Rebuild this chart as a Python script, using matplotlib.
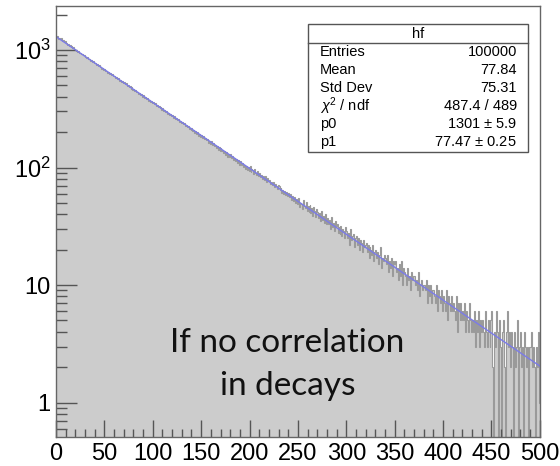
import numpy as np
import matplotlib.pyplot as plt
from matplotlib.patches import Rectangle
from matplotlib.ticker import FixedLocator, FixedFormatter, NullFormatter

plt.rcParams['font.family'] = ['Liberation Sans', 'DejaVu Sans']
plt.rcParams['mathtext.fontset'] = 'custom'
plt.rcParams['mathtext.rm'] = 'Liberation Sans'
plt.rcParams['mathtext.it'] = 'Liberation Sans:italic'

# histogram "hf": 500 bins of width 1 from 0 to 500
x_lo, x_hi = 0, 500
counts = [
    1288, 1305, 1247, 1270, 1231, 1262, 1198, 1214, 1176, 1190,
    1150, 1108, 1131, 1089, 1104, 1062, 1079, 1041, 1056, 1012,
    1001, 987, 962, 975, 940, 951, 918, 933, 899, 905,
    880, 851, 872, 838, 846, 812, 829, 797, 806, 774,
    779, 748, 760, 731, 742, 710, 721, 695, 706, 672,
    690, 661, 668, 642, 655, 624, 638, 611, 620, 596,
    601, 583, 590, 566, 575, 549, 561, 536, 548, 521,
    530, 512, 520, 497, 505, 488, 494, 470, 483, 459,
    468, 447, 455, 436, 441, 424, 431, 412, 420, 401,
    411, 392, 400, 381, 393, 370, 377, 361, 368, 352,
    360, 344, 352, 337, 341, 326, 335, 319, 327, 311,
    318, 303, 309, 296, 300, 288, 294, 280, 287, 272,
    280, 266, 272, 259, 263, 252, 257, 243, 250, 238,
    246, 233, 239, 226, 231, 221, 227, 212, 219, 208,
    216, 204, 209, 198, 203, 193, 199, 186, 192, 182,
    190, 179, 184, 174, 178, 170, 174, 162, 169, 159,
    167, 157, 162, 152, 157, 148, 153, 142, 149, 139,
    147, 138, 142, 134, 138, 129, 135, 124, 131, 122,
    130, 121, 125, 117, 121, 113, 118, 109, 115, 106,
    114, 106, 110, 102, 106, 98, 104, 95, 101, 93,
    103, 92, 97, 95, 89, 98, 90, 86, 93, 84,
    90, 83, 87, 80, 85, 79, 84, 76, 81, 77,
    79, 73, 76, 71, 75, 68, 72, 70, 66, 71,
    69, 64, 67, 61, 65, 60, 63, 58, 62, 57,
    61, 56, 59, 53, 57, 52, 56, 50, 54, 49,
    55, 46, 50, 49, 44, 53, 47, 45, 51, 43,
    47, 42, 48, 41, 45, 39, 46, 43, 38, 44,
    42, 37, 41, 35, 43, 36, 39, 34, 40, 33,
    37, 33, 36, 30, 38, 31, 34, 29, 35, 32,
    33, 28, 31, 27, 32, 26, 30, 29, 25, 31,
    29, 25, 28, 22, 30, 24, 26, 27, 21, 25,
    26, 22, 25, 20, 24, 23, 19, 24, 21, 22,
    23, 19, 22, 17, 21, 20, 18, 22, 16, 19,
    20, 17, 19, 15, 18, 21, 14, 17, 16, 18,
    17, 15, 18, 13, 16, 14, 17, 12, 16, 15,
    16, 13, 14, 11, 15, 13, 12, 16, 10, 14,
    13, 12, 10, 14, 11, 12, 9, 13, 11, 12,
    12, 10, 11, 9, 13, 8, 10, 11, 9, 10,
    10, 9, 11, 7, 10, 8, 9, 10, 7, 9,
    9, 8, 7, 10, 6, 9, 8, 7, 9, 6,
    8, 7, 6, 9, 5, 8, 7, 6, 8, 6,
    7, 6, 5, 8, 4, 7, 6, 5, 7, 5,
    6, 5, 7, 4, 6, 5, 4, 7, 5, 4,
    5, 4, 6, 3, 5, 4, 6, 3, 5, 4,
    5, 4, 3, 6, 4, 3, 5, 4, 3, 5,
    6, 2, 0, 4, 3, 6, 4, 0, 5, 3,
    0, 4, 5, 2, 0, 4, 6, 3, 4, 2,
    4, 3, 0, 4, 2, 3, 5, 0, 3, 3,
    4, 2, 3, 0, 4, 3, 2, 3, 0, 3,
    3, 4, 2, 3, 2, 0, 3, 2, 4, 1,
]

# fit results p0*exp(-x/p1)
p0 = 1301
p1 = 77.47

stats_labels = ['Entries', 'Mean', 'Std Dev', r'$\chi^2$ / ndf', 'p0', 'p1']
stats_values = ['100000', '77.84', '75.31', '487.4 / 489',
                r'1301 $\pm$ 5.9', r'77.47 $\pm$ 0.25']

ytick_vals = [1, 10, 100, 1000]
ytick_text = ['1', '10', r'$10^2$', r'$10^3$']

counts = np.array(counts, dtype=float)
edges = np.linspace(x_lo, x_hi, len(counts) + 1)
floor = 1e-2
shown = np.where(counts > 0, counts, floor)

fig = plt.figure(figsize=(5.6, 4.66), dpi=100)
ax = fig.add_axes([0.1, 0.0622, 0.864, 0.925])

ax.stairs(shown, edges, baseline=floor, fill=True, color='#cccccc', lw=0)
ax.stairs(shown, edges, baseline=None, color='#9a9a9a', lw=0.8)

xf = np.linspace(x_lo, x_hi, 400)
ax.plot(xf, p0 * np.exp(-xf / p1), color='#7b7be8', lw=1.0)

ax.set_yscale('log')
ax.set_xlim(x_lo, x_hi)
ax.set_ylim(0.51, 2370)

ax.xaxis.set_major_locator(FixedLocator(np.arange(0, 501, 50)))
ax.xaxis.set_minor_locator(FixedLocator(np.arange(0, 501, 10)))
ax.yaxis.set_major_locator(FixedLocator(ytick_vals))
ax.yaxis.set_major_formatter(FixedFormatter(ytick_text))
minors = [m * 10.0 ** d for d in range(-1, 4) for m in range(2, 10)]
ax.yaxis.set_minor_locator(FixedLocator(minors))
ax.yaxis.set_minor_formatter(NullFormatter())

ax.tick_params(axis='both', which='both', direction='in', colors='#555555',
               labelcolor='black', width=1.0)
ax.tick_params(axis='x', which='major', length=12, labelsize=17, pad=4)
ax.tick_params(axis='x', which='minor', length=6)
ax.tick_params(axis='y', which='major', length=15, labelsize=17, pad=4)
ax.tick_params(axis='y', which='minor', length=8)
for s in ax.spines.values():
    s.set_color('#666666')
    s.set_linewidth(1.0)

# stats box
W, H = 560.0, 466.0
bx0, bx1, by0, by1, bhead = 308, 528, 24, 152, 43
fig.patches.append(Rectangle((bx0 / W, 1 - by1 / H), (bx1 - bx0) / W,
                             (by1 - by0) / H, transform=fig.transFigure,
                             facecolor='white', edgecolor='#555555', lw=1.0,
                             zorder=5))
fig.add_artist(plt.Line2D([bx0 / W, bx1 / W], [1 - bhead / H, 1 - bhead / H],
                          transform=fig.transFigure, color='#555555', lw=1.0,
                          zorder=6))
fig.text((bx0 + bx1) / 2 / W, 1 - 33.5 / H, 'hf', ha='center', va='center',
         fontsize=10.5, zorder=7)
row_y = [52, 70, 88, 106, 124, 142]
for lab, val, yy in zip(stats_labels, stats_values, row_y):
    fig.text(320 / W, 1 - yy / H, lab, ha='left', va='center', fontsize=10.5,
             zorder=7)
    fig.text(517 / W, 1 - yy / H, val, ha='right', va='center', fontsize=10.5,
             zorder=7)

fig.text(287.5 / W, 1 - 352 / H, 'If no correlation', ha='center',
         va='baseline', fontsize=24, family=['Lato', 'DejaVu Sans'],
         color='#111111')
fig.text(287.5 / W, 1 - 395 / H, 'in decays', ha='center', va='baseline',
         fontsize=24, family=['Lato', 'DejaVu Sans'], color='#111111')

fig.savefig('out.png', dpi=100)
